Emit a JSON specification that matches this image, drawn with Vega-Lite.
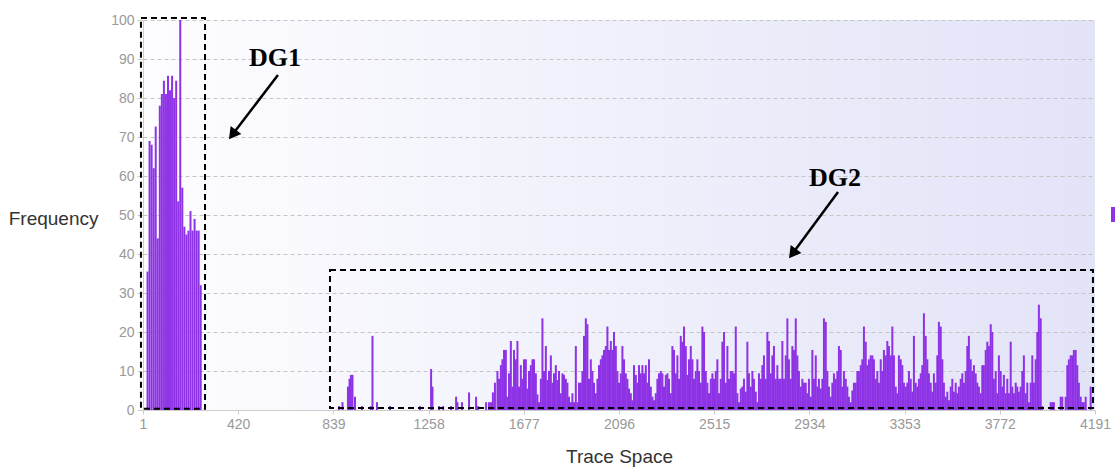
{
 "$schema": "https://vega.github.io/schema/vega-lite/v6.json",
 "width": 952,
 "height": 390,
 "autosize": {"type": "none"},
 "padding": {"left": 143, "top": 20, "right": 20, "bottom": 57},
 "background": "#ffffff",
 "view": {"stroke": null, "fill": {"gradient": "linear", "x1": 0, "y1": 0, "x2": 1, "y2": 0, "stops": [{"offset": 0, "color": "#fdfdff"}, {"offset": 1, "color": "#e2e3f7"}]}},
 "config": {
  "font": "Liberation Sans",
  "axisY": {"tickCount": 11, "grid": true, "gridDash": [4, 3], "gridColor": "#c4c4c4", "labelColor": "#999999", "labelFontSize": 14, "labelPadding": 3, "tickSize": 6, "tickColor": "#cccccc", "domainColor": "#cccccc"},
  "axisX": {"grid": false, "labelColor": "#999999", "labelFontSize": 14, "labelPadding": 3, "tickSize": 4, "tickColor": "#cccccc", "domainColor": "#cccccc"}
 },
 "datasets": {
  "bars": [
   {"trace":21,"freq":35.5},{"trace":30,"freq":69},{"trace":39,"freq":68},{"trace":48,"freq":62},{"trace":57,"freq":72.7},{"trace":66,"freq":44},{"trace":75,"freq":78},{"trace":84,"freq":81},{"trace":93,"freq":84.4},{"trace":102,"freq":81},{"trace":111,"freq":85.7},{"trace":120,"freq":82},{"trace":129,"freq":85.7},{"trace":138,"freq":80},{"trace":147,"freq":84.4},{"trace":156,"freq":53.5},{"trace":165,"freq":100},{"trace":174,"freq":57},{"trace":183,"freq":47},{"trace":192,"freq":45},{"trace":201,"freq":46},{"trace":210,"freq":51},{"trace":219,"freq":46},{"trace":228,"freq":49},{"trace":237,"freq":46},{"trace":246,"freq":46},{"trace":255,"freq":32},
   {"trace":864,"freq":1},{"trace":879,"freq":2},{"trace":903,"freq":6},{"trace":910,"freq":8},{"trace":916,"freq":9},{"trace":923,"freq":9},{"trace":934,"freq":3.4},{"trace":965,"freq":1},{"trace":1004,"freq":1},{"trace":1011,"freq":19},{"trace":1031,"freq":2},{"trace":1088,"freq":1},{"trace":1220,"freq":1},{"trace":1269,"freq":10.5},{"trace":1275,"freq":6},{"trace":1304,"freq":1},{"trace":1322,"freq":1},{"trace":1357,"freq":1},{"trace":1379,"freq":3.4},{"trace":1385,"freq":2},{"trace":1405,"freq":2},{"trace":1436,"freq":4.5},{"trace":1467,"freq":3.4},{"trace":1475,"freq":1},{"trace":1511,"freq":2},{"trace":1524,"freq":2},{"trace":1533,"freq":2},{"trace":1541,"freq":4.5},{"trace":1550,"freq":7},
   {"trace":1561,"freq":10},{"trace":1568,"freq":8},{"trace":1576,"freq":11.5},{"trace":1583,"freq":13},{"trace":1590,"freq":15.4},{"trace":1598,"freq":15.4},{"trace":1605,"freq":3.4},{"trace":1612,"freq":9.4},{"trace":1620,"freq":17.7},{"trace":1627,"freq":6},{"trace":1634,"freq":15.4},{"trace":1642,"freq":13},{"trace":1649,"freq":17.7},{"trace":1656,"freq":6},{"trace":1664,"freq":11.5},{"trace":1671,"freq":8},{"trace":1678,"freq":13},{"trace":1686,"freq":13},{"trace":1693,"freq":5.5},{"trace":1700,"freq":10},{"trace":1708,"freq":11.5},{"trace":1715,"freq":13},{"trace":1722,"freq":13},{"trace":1730,"freq":9.4},{"trace":1737,"freq":4},{"trace":1744,"freq":2},{"trace":1752,"freq":8},{"trace":1759,"freq":23.5},{"trace":1766,"freq":10},{"trace":1774,"freq":16.4},{"trace":1781,"freq":7.7},{"trace":1788,"freq":10},{"trace":1796,"freq":14},{"trace":1803,"freq":7},{"trace":1810,"freq":9.4},{"trace":1818,"freq":11.5},{"trace":1825,"freq":7.7},{"trace":1832,"freq":10},{"trace":1840,"freq":4.3},{"trace":1847,"freq":9.4},{"trace":1854,"freq":9},{"trace":1862,"freq":8},{"trace":1869,"freq":7},{"trace":1876,"freq":3.4},{"trace":1884,"freq":2},{"trace":1891,"freq":4.3},{"trace":1898,"freq":2},{"trace":1906,"freq":16.4},{"trace":1913,"freq":2},{"trace":1920,"freq":7},{"trace":1928,"freq":7},{"trace":1935,"freq":10},{"trace":1942,"freq":19},{"trace":1950,"freq":23.5},{"trace":1957,"freq":22},{"trace":1964,"freq":8},{"trace":1972,"freq":13},{"trace":1979,"freq":10},{"trace":1986,"freq":7},{"trace":1994,"freq":4.3},{"trace":2001,"freq":8},{"trace":2008,"freq":11.5},{"trace":2016,"freq":13},{"trace":2023,"freq":14},{"trace":2030,"freq":15.4},{"trace":2038,"freq":16.4},{"trace":2045,"freq":21.4},{"trace":2052,"freq":15.4},{"trace":2060,"freq":17.7},{"trace":2067,"freq":15.4},{"trace":2074,"freq":20},{"trace":2082,"freq":16.4},{"trace":2089,"freq":10},{"trace":2096,"freq":7},{"trace":2104,"freq":9.4},{"trace":2111,"freq":16.4},{"trace":2118,"freq":13},{"trace":2126,"freq":9.4},{"trace":2133,"freq":8},{"trace":2140,"freq":5.5},{"trace":2148,"freq":4.3},{"trace":2155,"freq":2.5},{"trace":2162,"freq":11.5},{"trace":2170,"freq":9},{"trace":2177,"freq":7},{"trace":2184,"freq":11.5},{"trace":2192,"freq":9.4},{"trace":2199,"freq":11.5},{"trace":2206,"freq":9.4},{"trace":2214,"freq":11.5},{"trace":2221,"freq":7},{"trace":2228,"freq":13},{"trace":2236,"freq":6},{"trace":2243,"freq":3.4},{"trace":2250,"freq":2.5},{"trace":2258,"freq":4.3},{"trace":2265,"freq":8},{"trace":2272,"freq":9.4},{"trace":2280,"freq":10},{"trace":2287,"freq":9.4},{"trace":2294,"freq":6},{"trace":2302,"freq":9},{"trace":2309,"freq":9.4},{"trace":2316,"freq":8},{"trace":2324,"freq":4.3},{"trace":2331,"freq":16.4},{"trace":2338,"freq":15.4},{"trace":2346,"freq":9.4},{"trace":2353,"freq":14},{"trace":2360,"freq":8},{"trace":2368,"freq":19},{"trace":2375,"freq":17.5},{"trace":2382,"freq":21.4},{"trace":2390,"freq":16.4},{"trace":2397,"freq":9},{"trace":2404,"freq":13},{"trace":2412,"freq":16.4},{"trace":2419,"freq":13},{"trace":2426,"freq":8},{"trace":2434,"freq":10},{"trace":2441,"freq":13},{"trace":2448,"freq":10},{"trace":2456,"freq":7},{"trace":2463,"freq":21.4},{"trace":2470,"freq":20},{"trace":2478,"freq":10},{"trace":2485,"freq":7},{"trace":2492,"freq":4.3},{"trace":2500,"freq":8},{"trace":2507,"freq":9.4},{"trace":2514,"freq":8},{"trace":2522,"freq":10},{"trace":2529,"freq":13},{"trace":2536,"freq":4.3},
   {"trace":2544,"freq":8},{"trace":2551,"freq":17.5},{"trace":2558,"freq":20},{"trace":2566,"freq":7},{"trace":2573,"freq":16.4},{"trace":2580,"freq":8},{"trace":2588,"freq":10},{"trace":2595,"freq":10},{"trace":2602,"freq":9.4},{"trace":2610,"freq":21.4},{"trace":2617,"freq":4.3},{"trace":2624,"freq":2},{"trace":2632,"freq":5.5},{"trace":2639,"freq":6},{"trace":2646,"freq":8},{"trace":2654,"freq":4.7},{"trace":2661,"freq":17.5},{"trace":2668,"freq":9.4},{"trace":2676,"freq":6},{"trace":2683,"freq":10},{"trace":2690,"freq":8},{"trace":2698,"freq":4.7},{"trace":2705,"freq":2},{"trace":2712,"freq":9.4},{"trace":2720,"freq":8},{"trace":2727,"freq":11.5},{"trace":2734,"freq":14},{"trace":2742,"freq":8},{"trace":2749,"freq":20},{"trace":2756,"freq":17.7},{"trace":2764,"freq":9.4},{"trace":2771,"freq":14},{"trace":2778,"freq":16.4},{"trace":2786,"freq":8},{"trace":2793,"freq":11.5},{"trace":2800,"freq":8},{"trace":2808,"freq":8},{"trace":2815,"freq":17.7},{"trace":2822,"freq":8},{"trace":2830,"freq":14},{"trace":2837,"freq":23.5},{"trace":2844,"freq":13},{"trace":2852,"freq":8},{"trace":2859,"freq":16.4},{"trace":2866,"freq":15.4},{"trace":2874,"freq":23.5},{"trace":2881,"freq":14},{"trace":2888,"freq":10},{"trace":2896,"freq":6},{"trace":2903,"freq":8},{"trace":2910,"freq":7},{"trace":2918,"freq":7},{"trace":2925,"freq":4.3},{"trace":2932,"freq":8},{"trace":2940,"freq":3.4},{"trace":2947,"freq":15.4},{"trace":2954,"freq":8},{"trace":2962,"freq":14},{"trace":2969,"freq":6},{"trace":2976,"freq":8},{"trace":2984,"freq":5.5},{"trace":2991,"freq":8},{"trace":2998,"freq":23.5},{"trace":3006,"freq":22.6},{"trace":3013,"freq":10},{"trace":3020,"freq":6},{"trace":3028,"freq":3.4},{"trace":3035,"freq":7},{"trace":3042,"freq":9.4},{"trace":3050,"freq":8},{"trace":3057,"freq":10},{"trace":3064,"freq":16.4},{"trace":3072,"freq":15.4},{"trace":3079,"freq":6},{"trace":3086,"freq":10},{"trace":3094,"freq":8},{"trace":3101,"freq":6},{"trace":3108,"freq":3.4},{"trace":3116,"freq":2},{"trace":3123,"freq":5},{"trace":3130,"freq":7},{"trace":3138,"freq":7},{"trace":3145,"freq":10},{"trace":3152,"freq":10},{"trace":3160,"freq":11.5},{"trace":3167,"freq":13},{"trace":3174,"freq":21.4},{"trace":3182,"freq":17.5},{"trace":3189,"freq":11.5},{"trace":3196,"freq":13},{"trace":3204,"freq":14},{"trace":3211,"freq":14},{"trace":3218,"freq":13},{"trace":3226,"freq":8},{"trace":3233,"freq":10},{"trace":3240,"freq":7},{"trace":3248,"freq":13},{"trace":3255,"freq":10},{"trace":3262,"freq":15.4},{"trace":3270,"freq":14},{"trace":3277,"freq":17.7},{"trace":3284,"freq":16.4},{"trace":3292,"freq":14},{"trace":3299,"freq":21.4},{"trace":3306,"freq":14},{"trace":3314,"freq":6},{"trace":3321,"freq":4.3},{"trace":3328,"freq":14},{"trace":3336,"freq":13},{"trace":3343,"freq":11.5},{"trace":3350,"freq":7},{"trace":3358,"freq":6},{"trace":3365,"freq":7},{"trace":3372,"freq":10},{"trace":3380,"freq":8},{"trace":3387,"freq":4.7},{"trace":3394,"freq":19},{"trace":3402,"freq":7},{"trace":3409,"freq":6},{"trace":3416,"freq":8},{"trace":3424,"freq":9.4},{"trace":3431,"freq":11.5},{"trace":3438,"freq":24.8},{"trace":3446,"freq":19},{"trace":3453,"freq":13},{"trace":3460,"freq":9.4},{"trace":3468,"freq":7},{"trace":3475,"freq":4.7},{"trace":3482,"freq":9.4},{"trace":3490,"freq":7},{"trace":3497,"freq":14},{"trace":3504,"freq":22.6},{"trace":3512,"freq":21.4},{"trace":3519,"freq":13},{"trace":3526,"freq":7},{"trace":3534,"freq":3.4},{"trace":3541,"freq":4.7},{"trace":3548,"freq":2.5},{"trace":3556,"freq":6},{"trace":3563,"freq":8},{"trace":3570,"freq":4.7},{"trace":3578,"freq":7},{"trace":3585,"freq":4.3},{"trace":3592,"freq":6},{"trace":3600,"freq":8},{"trace":3607,"freq":9.4},{"trace":3614,"freq":7},{"trace":3622,"freq":10},{"trace":3629,"freq":16.4},{"trace":3636,"freq":19},{"trace":3644,"freq":13},{"trace":3651,"freq":10},{"trace":3658,"freq":11.5},{"trace":3666,"freq":9.4},{"trace":3673,"freq":7},{"trace":3680,"freq":6},{"trace":3688,"freq":4.3},{"trace":3695,"freq":11.5},{"trace":3702,"freq":11.5},{"trace":3710,"freq":15.4},{"trace":3717,"freq":17.5},{"trace":3724,"freq":16.4},{"trace":3732,"freq":22},{"trace":3739,"freq":20},{"trace":3746,"freq":8},{"trace":3754,"freq":10},{"trace":3761,"freq":4.3},{"trace":3768,"freq":14},{"trace":3776,"freq":10},{"trace":3783,"freq":6},{"trace":3790,"freq":9},{"trace":3798,"freq":4.3},{"trace":3805,"freq":8},{"trace":3812,"freq":4.3},{"trace":3820,"freq":17.5},{"trace":3827,"freq":6},{"trace":3834,"freq":4.3},{"trace":3842,"freq":7},{"trace":3849,"freq":6},{"trace":3856,"freq":4.7},{"trace":3864,"freq":6},{"trace":3871,"freq":10},{"trace":3878,"freq":14},{"trace":3886,"freq":4.3},{"trace":3893,"freq":7},{"trace":3900,"freq":2},{"trace":3908,"freq":7},{"trace":3915,"freq":14},{"trace":3922,"freq":7},{"trace":3930,"freq":13},{"trace":3937,"freq":20},{"trace":3944,"freq":27},{"trace":3952,"freq":23.5},{"trace":3959,"freq":1},{"trace":3996,"freq":2},{"trace":4003,"freq":2},{"trace":4010,"freq":2},{"trace":4040,"freq":3.4},{"trace":4047,"freq":3.4},{"trace":4062,"freq":3.4},{"trace":4069,"freq":11.5},{"trace":4076,"freq":13},{"trace":4084,"freq":14},{"trace":4091,"freq":14},{"trace":4098,"freq":15.4},{"trace":4106,"freq":15.4},{"trace":4113,"freq":11.5},{"trace":4120,"freq":7},{"trace":4128,"freq":3.4},{"trace":4135,"freq":2},{"trace":4142,"freq":2},{"trace":4150,"freq":3.4},{"trace":4172,"freq":6}
  ]
 },
 "layer": [
  {
   "data": {"name": "bars"},
   "mark": {"type": "bar", "width": 2, "color": "#8e32e6"},
   "encoding": {
    "x": {"field": "trace", "type": "quantitative",
     "scale": {"domain": [1, 4191], "nice": false, "zero": false, "padding": 0},
     "axis": {"values": [1, 420, 839, 1258, 1677, 2096, 2515, 2934, 3353, 3772, 4191], "format": "d", "labelFlush": false, "labelOverlap": false, "title": "Trace Space", "titleFontSize": 19, "titleFontWeight": "normal", "titleColor": "#333333", "titlePadding": 16}},
    "y": {"field": "freq", "type": "quantitative",
     "scale": {"domain": [0, 100], "nice": false},
     "axis": {"values": [0, 10, 20, 30, 40, 50, 60, 70, 80, 90, 100], "labelOverlap": false, "title": "Frequency", "titleAngle": 0, "titleAlign": "right", "titleBaseline": "middle", "titleX": -45, "titleY": 198, "titleFontSize": 19, "titleFontWeight": "normal", "titleColor": "#333333"}},
    "color": {"datum": "Frequency", "type": "nominal", "scale": {"range": ["#8e32e6"]},
     "legend": {"orient": "none", "legendX": 968, "legendY": 187, "title": null, "symbolType": "square", "symbolSize": 225, "symbolStrokeWidth": 0, "labelExpr": "''"}}
   }
  },
  {
   "data": {"values": [{}]},
   "mark": {"type": "rect", "fillOpacity": 0, "stroke": "#000000", "strokeWidth": 2, "strokeDash": [6, 4], "clip": false},
   "encoding": {"x": {"datum": -8, "type": "quantitative"}, "x2": {"datum": 274}, "y": {"datum": 0.3, "type": "quantitative"}, "y2": {"datum": 100.5}}
  },
  {
   "data": {"values": [{}]},
   "mark": {"type": "rect", "fillOpacity": 0, "stroke": "#000000", "strokeWidth": 2, "strokeDash": [6, 4], "clip": false},
   "encoding": {"x": {"datum": 824, "type": "quantitative"}, "x2": {"datum": 4182}, "y": {"datum": 0.5, "type": "quantitative"}, "y2": {"datum": 35.9}}
  },
  {
   "data": {"values": [{}]},
   "mark": {"type": "text", "text": "DG1", "font": "Liberation Serif", "fontWeight": "bold", "fontSize": 26, "color": "#000000", "align": "center", "baseline": "middle"},
   "encoding": {"x": {"datum": 582, "type": "quantitative"}, "y": {"datum": 90.3, "type": "quantitative"}}
  },
  {
   "data": {"values": [{}]},
   "mark": {"type": "text", "text": "DG2", "font": "Liberation Serif", "fontWeight": "bold", "fontSize": 26, "color": "#000000", "align": "center", "baseline": "middle"},
   "encoding": {"x": {"datum": 3047, "type": "quantitative"}, "y": {"datum": 59.5, "type": "quantitative"}}
  },
  {
   "data": {"values": [{}]},
   "mark": {"type": "rule", "color": "#000000", "strokeWidth": 2.5},
   "encoding": {"x": {"datum": 595, "type": "quantitative"}, "x2": {"datum": 400}, "y": {"datum": 85.9, "type": "quantitative"}, "y2": {"datum": 71}}
  },
  {
   "data": {"values": [{}]},
   "mark": {"type": "point", "shape": "triangle", "filled": true, "color": "#000000", "size": 180, "angle": 217, "opacity": 1},
   "encoding": {"x": {"datum": 400, "type": "quantitative"}, "y": {"datum": 71, "type": "quantitative"}}
  },
  {
   "data": {"values": [{}]},
   "mark": {"type": "rule", "color": "#000000", "strokeWidth": 2.5},
   "encoding": {"x": {"datum": 3060, "type": "quantitative"}, "x2": {"datum": 2865}, "y": {"datum": 55.9, "type": "quantitative"}, "y2": {"datum": 40.5}}
  },
  {
   "data": {"values": [{}]},
   "mark": {"type": "point", "shape": "triangle", "filled": true, "color": "#000000", "size": 180, "angle": 217, "opacity": 1},
   "encoding": {"x": {"datum": 2865, "type": "quantitative"}, "y": {"datum": 40.5, "type": "quantitative"}}
  }
 ]
}
